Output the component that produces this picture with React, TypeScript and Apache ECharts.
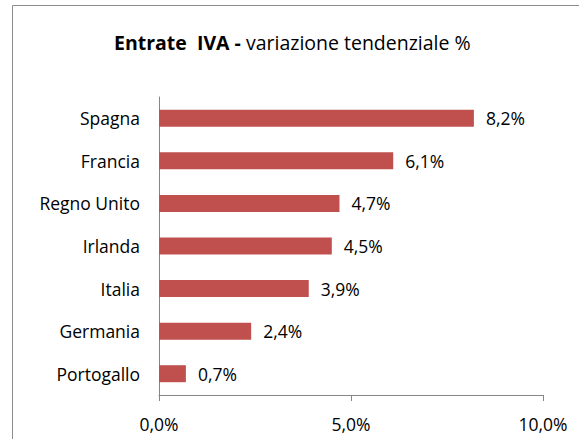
import React, { useEffect, useRef } from "react";
import * as echarts from "echarts";

const categories = ["Portogallo", "Germania", "Italia", "Irlanda", "Regno Unito", "Francia", "Spagna"];
const values = [0.7, 2.4, 3.9, 4.5, 4.7, 6.1, 8.2];
const xMin = 0;
const xMax = 10;
const xInterval = 5;

const FONT = "Open Sans";

const fmt = (v: number) => v.toFixed(1).replace(".", ",") + "%";

export default function App() {
  const ref = useRef<HTMLDivElement>(null);
  useEffect(() => {
    if (!ref.current) return;
    const chart = echarts.init(ref.current, undefined, { renderer: "svg" });
    chart.setOption({
      animation: false,
      backgroundColor: "#ffffff",
      textStyle: { fontFamily: FONT },
      title: {
        text: "{b|Entrate  IVA - }{n|variazione tendenziale %}",
        left: 109,
        top: 27,
        textStyle: {
          rich: {
            b: { fontFamily: FONT, fontWeight: "bold", fontSize: 19.5, color: "#000" },
            n: { fontFamily: FONT, fontWeight: "normal", fontSize: 19.5, color: "#000" },
          },
        },
      },
      graphic: [
        {
          type: "rect",
          shape: { x: 12.5, y: 5.5, width: 700, height: 600 },
          style: { fill: "none", stroke: "#8c8c8c", lineWidth: 1 },
          silent: true,
        },
      ],
      grid: { left: 159, right: 36, top: 97, bottom: 44, containLabel: false },
      xAxis: {
        type: "value",
        min: xMin,
        max: xMax,
        interval: xInterval,
        axisLine: { show: true, lineStyle: { color: "#868686", width: 1 } },
        axisTick: { show: true, length: 6, lineStyle: { color: "#868686" } },
        splitLine: { show: false },
        axisLabel: {
          formatter: (v: number) => fmt(v),
          fontFamily: FONT,
          fontSize: 17.5,
          color: "#000",
          margin: 20,
        },
      },
      yAxis: {
        type: "category",
        data: categories,
        axisLine: { show: true, lineStyle: { color: "#868686", width: 1 } },
        axisTick: { show: false },
        axisLabel: { fontFamily: FONT, fontSize: 17.5, color: "#000", margin: 19 },
      },
      series: [
        {
          type: "bar",
          data: values,
          barWidth: 17,
          itemStyle: { color: "#C0504D" },
          label: {
            show: true,
            position: "right",
            distance: 12,
            formatter: (p: any) => fmt(p.value),
            fontFamily: FONT,
            fontSize: 17.5,
            color: "#000",
          },
        },
      ],
    });
    return () => chart.dispose();
  }, []);
  return (
    <div
      ref={ref}
      style={{ position: "absolute", left: 0, top: 0, width: 579, height: 439 }}
    />
  );
}
